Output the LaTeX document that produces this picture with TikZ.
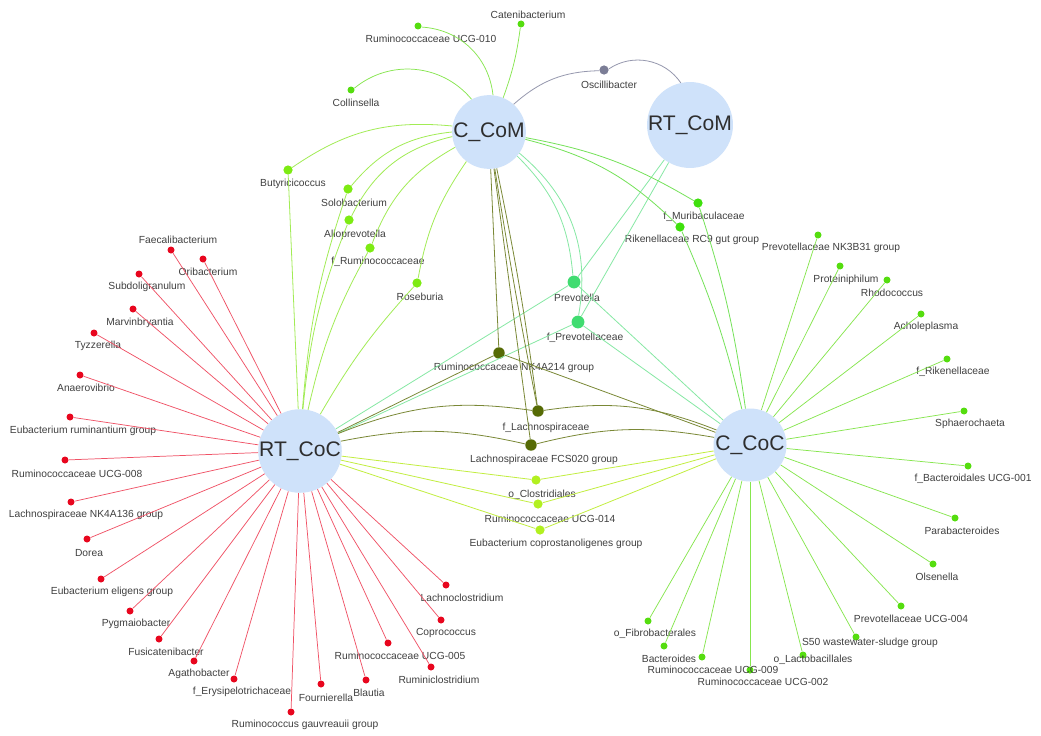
\documentclass[tikz,border=0pt]{standalone}
\usepackage{fontspec}
\setmainfont{Liberation Sans}
\definecolor{hubfill}{HTML}{CFE2FA}
\definecolor{hubtxt}{HTML}{2E2E2E}
\definecolor{lbltxt}{HTML}{404040}
\definecolor{redN}{HTML}{E8061E}
\definecolor{redE}{HTML}{F05266}
\definecolor{grnN}{HTML}{55DD0F}
\definecolor{grnE}{HTML}{86E64E}
\definecolor{limeN}{HTML}{7DEB12}
\definecolor{limeE}{HTML}{A2EC55}
\definecolor{ygrnN}{HTML}{B2F020}
\definecolor{ygrnE}{HTML}{C2EE40}
\definecolor{prevN}{HTML}{40DC70}
\definecolor{prevE}{HTML}{86E8A4}
\definecolor{olivN}{HTML}{566B05}
\definecolor{olivE}{HTML}{7A8836}
\definecolor{murN}{HTML}{3EE00C}
\definecolor{murE}{HTML}{74E258}
\definecolor{oscN}{HTML}{7B7D96}
\definecolor{oscE}{HTML}{9698AE}
\begin{document}
\begin{tikzpicture}[x=0.75pt,y=0.75pt,
  hub/.style={circle,fill=hubfill,draw=none,minimum size=54.75pt,inner sep=0pt,text=hubtxt,font=\fontsize{15.8}{16}\selectfont},
  leaf/.style={circle,fill=#1,draw=none,inner sep=0pt,minimum size=5.25pt},
  bigleaf/.style={circle,fill=#1,draw=none,inner sep=0pt,minimum size=6.9pt},
  oleaf/.style={circle,fill=olivN,draw=none,inner sep=0pt,minimum size=8.6pt},
  pleaf/.style={circle,fill=prevN,draw=none,inner sep=0pt,minimum size=9.6pt},
  lbl/.style={text=lbltxt,font=\fontsize{7.7}{8}\selectfont,inner sep=0pt},
  redge/.style={draw=redE,line width=0.55pt},
  gedge/.style={draw=grnE,line width=0.55pt},
  ledge/.style={draw=limeE,line width=0.6pt},
  yedge/.style={draw=ygrnE,line width=0.6pt},
  pedge/.style={draw=prevE,line width=0.6pt},
  oedge/.style={draw=olivE,line width=0.6pt},
  medge/.style={draw=murE,line width=0.6pt},
  sedge/.style={draw=oscE,line width=0.6pt}]
\fill[white] (0,0) rectangle (1041,-735);
\useasboundingbox (0,0) rectangle (1041,-735);
% hubs
\node[hub] (CCoM) at (489,-132) {C\_CoM};
\node[hub] (RTCoM) at (690,-125) {RT\_CoM};
\node[hub] (RTCoC) at (300,-451) {RT\_CoC};
\node[hub] (CCoC) at (750,-445) {C\_CoC};
% red leaves
\node[leaf=redN] (r1) at (171,-250) {}; \node[lbl] (r1l) at (178,-240) {Faecalibacterium};
\node[leaf=redN] (r2) at (203,-259) {}; \node[lbl] (r2l) at (208,-272) {Oribacterium};
\node[leaf=redN] (r3) at (139,-274) {}; \node[lbl] (r3l) at (147,-287) {Subdoligranulum};
\node[leaf=redN] (r4) at (133,-309) {}; \node[lbl] (r4l) at (140,-323) {Marvinbryantia};
\node[leaf=redN] (r5) at (94,-333) {}; \node[lbl] (r5l) at (98,-346) {Tyzzerella};
\node[leaf=redN] (r6) at (80,-375) {}; \node[lbl] (r6l) at (86,-388) {Anaerovibrio};
\node[leaf=redN] (r7) at (70,-417) {}; \node[lbl] (r7l) at (83,-431) {Eubacterium ruminantium group};
\node[leaf=redN] (r8) at (65,-460) {}; \node[lbl] (r8l) at (77,-474) {Ruminococcaceae UCG-008};
\node[leaf=redN] (r9) at (71,-502) {}; \node[lbl] (r9l) at (86,-515) {Lachnospiraceae NK4A136 group};
\node[leaf=redN] (r10) at (87,-539) {}; \node[lbl] (r10l) at (89,-553) {Dorea};
\node[leaf=redN] (r11) at (101,-579) {}; \node[lbl] (r11l) at (112,-592) {Eubacterium eligens group};
\node[leaf=redN] (r12) at (130,-611) {}; \node[lbl] (r12l) at (136,-624) {Pygmaiobacter};
\node[leaf=redN] (r13) at (159,-639) {}; \node[lbl] (r13l) at (166,-652) {Fusicatenibacter};
\node[leaf=redN] (r14) at (194,-661) {}; \node[lbl] (r14l) at (199,-674) {Agathobacter};
\node[leaf=redN] (r15) at (234,-679) {}; \node[lbl] (r15l) at (242,-692) {f\_Erysipelotrichaceae};
\node[leaf=redN] (r16) at (291,-712) {}; \node[lbl] (r16l) at (305,-725) {Ruminococcus gauvreauii group};
\node[leaf=redN] (r17) at (321,-684) {}; \node[lbl] (r17l) at (326,-698) {Fournierella};
\node[leaf=redN] (r18) at (366,-680) {}; \node[lbl] (r18l) at (369,-693) {Blautia};
\node[leaf=redN] (r19) at (388,-643) {}; \node[lbl] (r19l) at (400,-656) {Ruminococcaceae UCG-005};
\node[leaf=redN] (r20) at (431,-667) {}; \node[lbl] (r20l) at (439,-680) {Ruminiclostridium};
\node[leaf=redN] (r21) at (441,-620) {}; \node[lbl] (r21l) at (446,-633) {Coprococcus};
\node[leaf=redN] (r22) at (446,-585) {}; \node[lbl] (r22l) at (462,-598) {Lachnoclostridium};
% top leaves of C_CoM
\node[leaf=grnN] (t1) at (418,-26) {}; \node[lbl] (t1l) at (431,-39) {Ruminococcaceae UCG-010};
\node[leaf=grnN] (t2) at (521,-24) {}; \node[lbl] (t2l) at (528,-15) {Catenibacterium};
\node[leaf=grnN] (t3) at (351,-90) {}; \node[lbl] (t3l) at (356,-103) {Collinsella};
\node[bigleaf=oscN] (osc) at (604,-70) {}; \node[lbl] (oscl) at (609,-85) {Oscillibacter};
% lime leaves
\node[bigleaf=limeN] (l1) at (288,-170) {}; \node[lbl] (l1l) at (293,-184) {Butyricicoccus};
\node[bigleaf=limeN] (l2) at (348,-189) {}; \node[lbl] (l2l) at (354,-203) {Solobacterium};
\node[bigleaf=limeN] (l3) at (349,-220) {}; \node[lbl] (l3l) at (355,-235) {Alloprevotella};
\node[bigleaf=limeN] (l4) at (370,-248) {}; \node[lbl] (l4l) at (378,-262) {f\_Ruminococcaceae};
\node[bigleaf=limeN] (l5) at (417,-283) {}; \node[lbl] (l5l) at (420,-297) {Roseburia};
% prevotella
\node[pleaf] (p1) at (574,-282) {}; \node[lbl] (p1l) at (577,-298) {Prevotella};
\node[pleaf] (p2) at (578,-322) {}; \node[lbl] (p2l) at (585,-338) {f\_Prevotellaceae};
% muribaculaceae
\node[bigleaf=murN] (m1) at (698,-203) {}; \node[lbl] (m1l) at (704,-217) {f\_Muribaculaceae};
\node[bigleaf=murN] (m2) at (680,-227) {}; \node[lbl] (m2l) at (692,-240) {Rikenellaceae RC9 gut group};
% olive
\node[oleaf] (o1) at (499,-353) {}; \node[lbl] (o1l) at (514,-368) {Ruminococcaceae NK4A214 group};
\node[oleaf] (o2) at (538,-411) {}; \node[lbl] (o2l) at (546,-428) {f\_Lachnospiraceae};
\node[oleaf] (o3) at (531,-445) {}; \node[lbl] (o3l) at (544,-460) {Lachnospiraceae FCS020 group};
% yellow-green
\node[bigleaf=ygrnN] (y1) at (536,-480) {}; \node[lbl] (y1l) at (542,-495) {o\_Clostridiales};
\node[bigleaf=ygrnN] (y2) at (538,-504) {}; \node[lbl] (y2l) at (550,-519) {Ruminococcaceae UCG-014};
\node[bigleaf=ygrnN] (y3) at (540,-530) {}; \node[lbl] (y3l) at (556,-544) {Eubacterium coprostanoligenes group};
% C_CoC leaves
\node[leaf=grnN] (c1) at (818,-235) {}; \node[lbl] (c1l) at (831,-248) {Prevotellaceae NK3B31 group};
\node[leaf=grnN] (c2) at (840,-266) {}; \node[lbl] (c2l) at (846,-280) {Proteiniphilum};
\node[leaf=grnN] (c3) at (887,-280) {}; \node[lbl] (c3l) at (892,-293) {Rhodococcus};
\node[leaf=grnN] (c4) at (921,-314) {}; \node[lbl] (c4l) at (926,-327) {Acholeplasma};
\node[leaf=grnN] (c5) at (947,-359) {}; \node[lbl] (c5l) at (953,-372) {f\_Rikenellaceae};
\node[leaf=grnN] (c6) at (964,-411) {}; \node[lbl] (c6l) at (970,-424) {Sphaerochaeta};
\node[leaf=grnN] (c7) at (968,-466) {}; \node[lbl] (c7l) at (973,-479) {f\_Bacteroidales UCG-001};
\node[leaf=grnN] (c8) at (955,-518) {}; \node[lbl] (c8l) at (962,-531) {Parabacteroides};
\node[leaf=grnN] (c9) at (933,-564) {}; \node[lbl] (c9l) at (937,-577) {Olsenella};
\node[leaf=grnN] (c10) at (901,-606) {}; \node[lbl] (c10l) at (911,-619) {Prevotellaceae UCG-004};
\node[leaf=grnN] (c11) at (856,-637) {}; \node[lbl] (c11l) at (870,-643) {S50 wastewater-sludge group};
\node[leaf=grnN] (c12) at (803,-655) {}; \node[lbl] (c12l) at (813,-660) {o\_Lactobacillales};
\node[leaf=grnN] (c13) at (750,-670) {}; \node[lbl] (c13l) at (763,-682) {Ruminococcaceae UCG-002};
\node[leaf=grnN] (c14) at (702,-657) {}; \node[lbl] (c14l) at (713,-670) {Ruminococcaceae UCG-009};
\node[leaf=grnN] (c15) at (664,-646) {}; \node[lbl] (c15l) at (669,-659) {Bacteroides};
\node[leaf=grnN] (c16) at (648,-621) {}; \node[lbl] (c16l) at (655,-634) {o\_Fibrobacterales};
% edges: RT_CoC red
\foreach \i in {1,...,22} \draw[redge] (RTCoC) -- (r\i);
% edges: C_CoC green
\foreach \i in {1,...,16} \draw[gedge] (CCoC) -- (c\i);
% top edges
\draw[gedge] (CCoM) to[bend right=40] (t1);
\draw[gedge] (CCoM) to[bend right=6] (t2);
\draw[gedge] (CCoM) to[bend right=45] (t3);
\draw[sedge] (CCoM) to[bend left=20] (osc);
\draw[sedge] (osc) to[bend left=45] (RTCoM);
% lime
\draw[ledge] (CCoM) to[bend right=20] (l1);
\draw[ledge] (CCoM) to[bend right=22] (l2);
\draw[ledge] (CCoM) to[bend right=25] (l3);
\draw[ledge] (CCoM) to[bend right=20] (l4);
\draw[ledge] (CCoM) to[bend right=12] (l5);
\draw[ledge] (l1) -- (RTCoC);
\draw[ledge] (l2) to[bend right=7] (RTCoC);
\draw[ledge] (l3) to[bend right=8] (RTCoC);
\draw[ledge] (l4) to[bend right=8] (RTCoC);
\draw[ledge] (l5) to[bend right=6] (RTCoC);
% prevotella
\draw[pedge] (CCoM) to[bend left=20] (p1);
\draw[pedge] (CCoM) to[bend left=30] (p2);
\draw[pedge] (RTCoM) -- (p1);
\draw[pedge] (RTCoM) -- (p2);
\draw[pedge] (p1) -- (RTCoC);
\draw[pedge] (p2) -- (RTCoC);
\draw[pedge] (p1) -- (CCoC);
\draw[pedge] (p2) -- (CCoC);
% muribaculaceae
\draw[medge] (CCoM) to[bend left=10] (m1);
\draw[medge] (CCoM) to[bend left=15] (m2);
\draw[medge] (m1) to[bend left=5] (CCoC);
\draw[medge] (m2) to[bend left=5] (CCoC);
% olive
\draw[oedge] (CCoM) -- (o1);
\draw[oedge] (o1) -- (RTCoC);
\draw[oedge] (o1) -- (CCoC);
\draw[oedge] (CCoM) to[bend left=2] (o2);
\draw[oedge] (CCoM) to[bend right=1] (o2);
\draw[oedge] (CCoM) -- (o3);
\draw[oedge] (RTCoC) to[bend left=15] (o2);
\draw[oedge] (o2) to[bend left=15] (CCoC);
\draw[oedge] (RTCoC) to[bend left=12] (o3);
\draw[oedge] (o3) to[bend left=12] (CCoC);
% yellow-green
\foreach \i in {1,2,3} {\draw[yedge] (RTCoC) -- (y\i); \draw[yedge] (y\i) -- (CCoC);}
\end{tikzpicture}
\end{document}
